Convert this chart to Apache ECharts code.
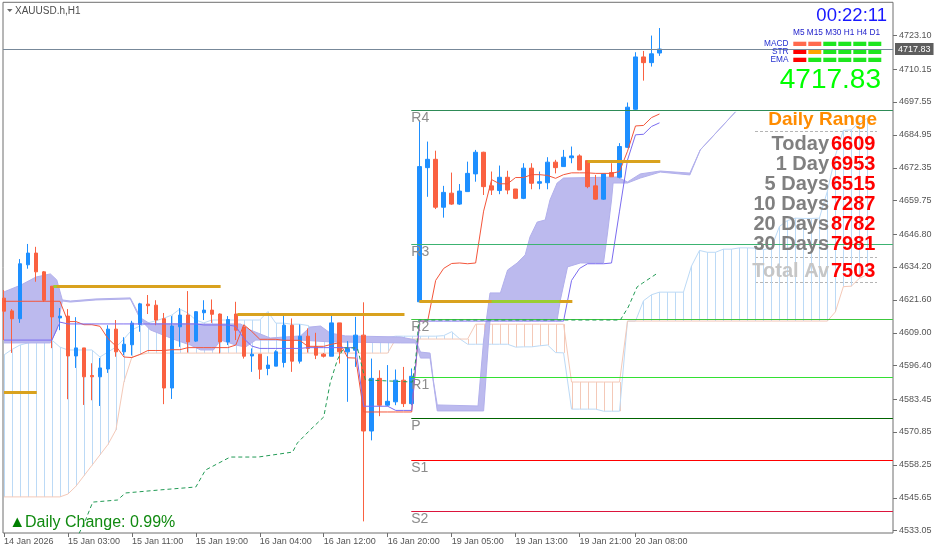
<!DOCTYPE html>
<html><head><meta charset="utf-8">
<script src="https://cdn.jsdelivr.net/npm/echarts@6/dist/echarts.min.js"></script>
<style>html,body{margin:0;padding:0;background:#fff;}#c{width:939px;height:554px;}</style>
</head><body><div id="c"></div>
<script>
// ---------------- DATA ----------------
const yTicks = [4723.10,4710.15,4697.55,4684.95,4672.35,4659.75,4646.80,4634.20,4621.60,4609.00,4596.40,4583.45,4570.85,4558.25,4545.65,4533.05];
const timeTicks = [[0,'14 Jan 2026'],[8,'15 Jan 03:00'],[16,'15 Jan 11:00'],[24,'15 Jan 19:00'],[32,'16 Jan 04:00'],[40,'16 Jan 12:00'],[48,'16 Jan 20:00'],[56,'19 Jan 05:00'],[64,'19 Jan 13:00'],[72,'19 Jan 21:00'],[79,'20 Jan 08:00']];
// [open, high, low, close]
const candles = [
[4622.2,4625.3,4606.1,4617.2],[4617.3,4618.0,4601.2,4614.3],[4614.3,4637.2,4612.7,4635.4],[4635.0,4643.0,4633.5,4639.5],
[4639.5,4641.9,4628.5,4632.3],[4632.3,4632.6,4620.8,4621.4],[4626.8,4626.8,4603.0,4615.0],[4614.6,4618.4,4609.9,4615.3],
[4615.3,4618.0,4583.4,4600.0],[4600.0,4614.9,4595.4,4603.1],[4603.1,4603.1,4581.2,4592.0],[4592.5,4597.2,4583.0,4592.0],
[4592.0,4599.2,4580.8,4595.4],[4595.0,4611.8,4593.5,4610.3],[4610.3,4613.8,4599.7,4601.6],[4601.6,4607.2,4600.3,4604.5],
[4604.3,4613.5,4600.2,4612.6],[4612.1,4620.4,4609.3,4620.0],[4619.9,4623.4,4616.1,4619.3],[4619.5,4621.4,4611.8,4613.8],
[4614.3,4616.5,4581.5,4587.7],[4587.7,4615.3,4583.5,4611.5],[4611.2,4618.4,4603.5,4615.7],[4615.7,4624.9,4601.3,4605.4],
[4605.7,4617.2,4605.4,4617.0],[4616.6,4621.4,4613.8,4617.6],[4617.6,4621.7,4612.7,4616.0],[4616.1,4616.3,4601.0,4605.4],
[4605.4,4615.3,4604.2,4614.0],[4616.1,4620.8,4606.1,4609.9],[4611.1,4611.2,4599.0,4599.9],[4600.0,4602.9,4593.9,4600.7],
[4600.7,4600.7,4591.1,4594.9],[4595.2,4599.9,4592.6,4596.5],[4596.1,4602.2,4596.1,4601.6],[4597.5,4616.3,4595.6,4611.8],
[4611.8,4614.4,4593.9,4598.0],[4598.0,4612.1,4597.1,4607.6],[4607.6,4610.6,4601.3,4602.9],[4603.5,4608.9,4598.8,4600.3],
[4600.7,4601.1,4599.4,4599.9],[4599.9,4616.0,4599.9,4612.7],[4612.7,4612.7,4597.1,4601.6],[4601.6,4605.7,4582.4,4602.9],
[4602.2,4615.0,4595.8,4608.0],[4608.0,4620.6,4536.5,4571.2],[4571.2,4599.0,4567.6,4591.4],[4591.4,4594.5,4576.9,4581.1],
[4581.1,4596.5,4580.7,4582.6],[4582.4,4594.8,4581.1,4590.7],[4590.7,4595.8,4580.4,4581.7],[4581.7,4595.2,4581.1,4592.2],
[4620.8,4690.4,4620.8,4672.7],[4672.3,4682.3,4661.1,4675.5],[4675.5,4678.8,4656.4,4657.1],[4657.1,4665.3,4653.1,4662.8],
[4662.5,4670.4,4658.0,4658.3],[4658.3,4666.0,4658.0,4663.3],[4663.1,4674.6,4663.1,4670.1],[4669.9,4679.1,4666.9,4678.2],
[4678.2,4678.4,4661.8,4665.0],[4665.3,4670.8,4661.8,4663.7],[4663.5,4673.1,4662.1,4668.6],[4668.6,4671.1,4662.1,4663.7],
[4664.1,4664.1,4660.2,4660.5],[4660.5,4674.0,4660.2,4672.1],[4672.1,4674.0,4664.0,4666.3],[4666.3,4670.8,4664.0,4666.9],
[4666.5,4676.3,4664.0,4674.4],[4674.4,4675.3,4670.1,4672.3],[4672.7,4679.1,4672.7,4676.3],[4676.1,4680.4,4674.0,4676.8],
[4676.8,4677.4,4671.4,4671.4],[4675.0,4675.0,4664.4,4665.0],[4665.3,4669.5,4659.9,4660.2],[4660.2,4670.1,4659.9,4669.9],
[4670.4,4674.0,4668.8,4668.8],[4668.6,4681.7,4668.2,4680.4],[4680.1,4697.3,4679.8,4695.5],[4694.7,4716.6,4694.5,4714.8],
[4714.8,4717.1,4705.7,4712.6],[4712.6,4723.0,4711.1,4716.0],[4716.3,4725.9,4715.2,4717.83]
];
const tenkan = [4621,4621,4621,4621,4621,4621,4621,4621,4613.2,4613.2,4612,4612,4611.4,4606.7,4603.8,4599.6,4599.4,4600.6,4602.1,4602.1,
4602.1,4602.4,4602.4,4603.2,4603.2,4603.2,4603.2,4603.2,4603.2,4604.2,4612,4609.4,4606.4,4606.4,4606.4,4606,4606,4606,4603.7,4603.7,
4603.7,4604.5,4605.1,4599.3,4599.2,4578.5,4578.5,4578.5,4578.5,4578.5,4578.5,4578.5,4613.4,4613.4,4629,4633.6,4635.5,4635.7,4635.4,4635.7,
4655.6,4667.7,4666.1,4666.1,4668.5,4668.5,4669.6,4669.6,4669.3,4668.2,4669.6,4670.3,4670.3,4670.3,4670.1,4670.1,4670.1,4670.8,4678.6,4688.3,
4688.5,4691.5,4692.9];
const kijun = [4606.1,4606.1,4606.1,4606.1,4606.1,4606.1,4606.1,4613.0,4612.3,4612.3,4612.3,4612.3,4612.3,4612.3,4612.3,4612.3,4612.3,4612.3,4612.3,4612.3,
4612.3,4612.3,4612.3,4612.3,4612.3,4611.9,4611.9,4611.9,4611.9,4611.4,4606.7,4603.8,4602.9,4602.9,4602.9,4602.9,4602.9,4602.9,4603.2,4603.2,
4603.2,4603.2,4603.2,4603.2,4603.2,4580.7,4580.7,4580.7,4580.7,4579.1,4579.1,4579.1,4613.4,4613.4,4613.4,4613.4,4613.4,4613.4,4613.4,4613.4,
4613.4,4613.4,4613.4,4613.4,4613.4,4613.4,4613.4,4613.4,4613.4,4613.4,4613.4,4629,4633.6,4635.4,4635.4,4635.4,4635.7,4655.6,4675.2,4684.9,
4685.1,4688.1,4689.5];
const spanA = [4600.4,4602.5,4604.2,4605.0,4605.5,4606.0,4606.1,4603.4,4602.3,4602.3,
4602.3,4602.3,4599.6,4601.5,4603.4,4606.5,4610.0,4611.5,4612.7,4613.5,
4614.5,4615.7,4618.0,4616.5,4613.8,4612.7,4613.8,4613.8,4613.8,4613.8,
4613.8,4613.8,4613.8,4617.0,4612.6,4612.6,4612.2,4612.2,4611.7,4609.6,
4608.1,4606.1,4606.1,4606.6,4607.1,4607.1,4607.1,4607.1,4607.1,4607.6,
4607.6,4607.6,4607.6,4607.6,4607.6,4607.8,4609.3,4606.6,4604.5,4604.5,
4604.5,4604.5,4604.5,4604.5,4603.4,4603.5,4603.5,4603.9,4604.2,4601.3,
4601.2,4579.6,4579.6,4579.6,4579.6,4578.8,4578.8,4578.8,4613.4,4613.4,
4621.2,4623.5,4624.5,4624.5,4624.5,4624.5,4634.5,4640.5,4639.8,4639.8,
4641.0,4641.0,4641.5,4641.5,4641.4,4640.8,4641.5,4649.7,4652.0,4652.9,
4652.8,4652.8,4652.9,4663.2,4676.9,4686.6,4686.8,4689.8,4691.2];
const spanB = [4545.9,4545.9,4545.9,4545.9,4545.9,4545.9,4545.9,4545.9,4547.0,4550.0,
4554.0,4558.0,4562.0,4566.0,4571.6,4590.0,4599.6,4600.5,4601.1,4601.1,
4601.1,4601.1,4601.1,4601.1,4601.1,4601.1,4601.1,4601.1,4601.1,4601.1,
4601.1,4601.1,4601.1,4601.1,4601.1,4601.1,4601.1,4601.1,4601.1,4601.1,
4601.1,4601.1,4601.1,4601.1,4601.1,4601.1,4601.1,4601.1,4601.1,4606.5,
4606.5,4606.5,4606.5,4606.5,4606.5,4606.5,4606.5,4606.5,4606.5,4612.2,
4612.2,4612.2,4612.2,4612.2,4612.2,4612.2,4612.2,4612.2,4612.2,4612.2,
4612.2,4590.0,4590.0,4590.0,4590.0,4590.0,4590.0,4590.0,4613.4,4613.4,
4613.4,4613.4,4613.4,4613.4,4613.4,4613.4,4613.4,4613.4,4613.4,4613.4,
4613.4,4613.4,4613.4,4613.4,4613.4,4613.4,4613.4,4613.4,4613.4,4613.4,
4613.4,4613.4,4613.4,4613.4,4616.9,4626.6,4626.8,4629.8,4631.2];
// lavender cloud edges [bar position, price]
const lavUpper = [[0,4624.6],[2.1,4627.2],[4,4630.3],[5.8,4631.5],[6.6,4629.2],[7.3,4621.5],[8.3,4621.1],[11.5,4621.9],[15.8,4622.3],[17.1,4614.6],
[18.3,4612.3],[29.6,4612.3],[30.8,4610.0],[33.3,4606.9],[37.1,4607.7],[38.3,4611.1],[39.6,4611.5],[40.8,4608.8],[42.7,4607.7],[49.6,4607.3],
[51.5,4606.1],[52.1,4601.5],[53.3,4601.1],[53.7,4590.8],[54.2,4581.2],[59.3,4580.8],[60,4606.1],[60.8,4624.2],[62.1,4624.2],[63,4633.0],
[64.2,4635.7],[65.2,4638.8],[65.8,4645.7],[66.7,4651.4],[67.7,4652.2],[68.3,4659.9],[69.2,4666.4],[70,4668.3],[76.7,4668.7],[78,4666.8],
[79.6,4669.9],[82.1,4671.0],[85.8,4670.2],[87.1,4679.1],[91.5,4693.7]];
const lavLower = [[0,4605.0],[5.8,4605.0],[6.6,4610.0],[7.3,4621.1],[8.3,4620.7],[11.5,4621.5],[15.8,4621.9],[17.1,4613.8],[18.3,4610.0],[21.5,4606.1],
[23.3,4604.2],[24.6,4602.3],[26.2,4602.3],[27.1,4606.1],[29,4604.2],[30.2,4603.4],[31.5,4606.1],[37.1,4606.1],[40.8,4605.4],[49.6,4605.0],
[51.5,4605.0],[52.1,4599.2],[53.3,4599.2],[54.2,4578.9],[60,4578.9],[60.8,4613.8],[69.2,4613.8],[69.6,4621.5],[70.5,4634.2],[72.1,4635.7],
[75,4635.7],[75.5,4647.2],[76,4659.9],[76.2,4666.4],[78,4666.4],[79.6,4668.3],[82.1,4670.6],[85.8,4669.5],[87.1,4679.1],[91.5,4693.7]];
const slowMA = [[9,4529.4],[10.2,4537.0],[11.1,4543.9],[14.2,4544.7],[15.2,4547.4],[19.6,4548.6],[24,4549.7],[25.2,4556.2],[28.3,4561.2],[31.8,4561.2],
[36.1,4563.1],[36.7,4566.6],[38.3,4571.6],[40,4576.6],[40.8,4589.6],[41.7,4598.5],[42.5,4603.1],[44.2,4603.1],[45.2,4590.8],[51.1,4590.0],
[51.5,4598.5],[51.9,4613.8],[77.1,4613.8],[78.1,4618.8],[79.2,4626.5],[79.9,4628.0],[81.8,4631.9]];
// session levels [from bar, to bar, price]
const goldLevels = [[0,4.1,4586.1],[6.2,27.1,4626.9],[29.2,50.1,4616.1],[51.96,71.1,4621.0],[73,82.1,4674.9]];
const limeLevels = [[61,69.5,4621.0],[6.2,6.6,4626.9]];
const pivots = [['R4',4694.31],['R3',4642.87],['R2',4614.08],['R1',4591.81],['P',4576.07],['S1',4559.95],['S2',4540.37]];
const pivotFrom = 50.95, pivotTo = 111.2;
const lastPrice = 4717.83;
const symbolName = 'XAUUSD.h,H1';
const clockText = '00:22:11';
const timeframes = ['M5','M15','M30','H1','H4','D1'];
const signalRows = [['MACD',['dn','dn','up','up','up','up']],['STR',['sell','weak','up','up','up','up']],['EMA',['sell','up','up','up','up','up']]];
const rangeRows = [['Today',6609],['1 Day',6953],['5 Days',6515],['10 Days',7287],['20 Days',8782],['30 Days',7981]];
const rangeAvg = ['Total Av',7503];
const dailyChange = 'Daily Change: 0.99%';

// ---------------- CHART ----------------
const Y_MIN = 4532.04, Y_MAX = 4735.77, N_SLOTS = 112;
const BLUE='#1E8FFF', RED='#FA6141', LB='#BCDAF6', PEACH='#F4C9B8', LAV='#BCBAEE';
const FONT='"Liberation Sans", Arial, sans-serif';
const tickMap = new Map(timeTicks);
const cats = Array.from({length:N_SLOTS},(_,i)=>String(i));
const HIDDEN = {show:false,axisLine:{show:false,onZero:false},axisTick:{show:false},axisLabel:{show:false},splitLine:{show:false},splitArea:{show:false},minorTick:{show:false},minorSplitLine:{show:false}};

const markLines = [];
goldLevels.forEach(g=>markLines.push([{coord:[g[0],g[2]],lineStyle:{color:'#D9A21E',width:3,type:'solid'}},{coord:[g[1],g[2]]}]));
limeLevels.forEach(g=>markLines.push([{coord:[g[0],g[2]],lineStyle:{color:'#9ACD32',width:3,type:'solid'}},{coord:[g[1],g[2]]}]));
const pivColors = {R4:'#2E8B57',R3:'#3CB371',R2:'#3CC83C',R1:'#33E033',P:'#006400',S1:'#FF0000',S2:'#DC143C'};
pivots.forEach(p=>markLines.push([{coord:[pivotFrom,p[1]],lineStyle:{color:pivColors[p[0]],width:1,type:'solid'},
  label:{show:true,formatter:p[0],position:'insideStartBottom',distance:[0,1],color:'#8c8c8c',fontSize:14,fontFamily:FONT}},{coord:[pivotTo,p[1]]}]));

const graphics = [];
function txt(x,y,text,size,color,align,weight,vAlign){graphics.push({type:'text',x:x,y:y,silent:true,z:100,style:{text:text,fill:color,font:(weight||'normal')+' '+size+'px '+FONT,align:align||'left',verticalAlign:vAlign||'middle'}});}
graphics.push({type:'polygon',silent:true,shape:{points:[[7,9],[12.5,9],[9.75,12]]},style:{fill:'#6a6a6a'}});
txt(15,11.5,symbolName,10,'#4d4d4d');
txt(887,15.5,clockText,18.5,'#1818FF','right');
txt(793,33,timeframes.join(' '),8.3,'#2424CC');
const sigColor = {dn:'#FF6A4D',sell:'#FF0000',weak:'#FFA500',up:'#1EE61E'};
signalRows.forEach((r,ri)=>{
  txt(788.5,43.5+ri*8,r[0],8.3,'#2430D0','right');
  r[1].forEach((s,ci)=>graphics.push({type:'rect',silent:true,shape:{x:793.3+ci*15,y:41.7+ri*8,width:13,height:4.3},style:{fill:sigColor[s]}}));
});
txt(881,80.5,lastPrice.toFixed(2),28,'#00FF00','right');
txt(877,119.5,'Daily Range',19,'#FF8C00','right','bold');
function dash(y){graphics.push({type:'line',silent:true,shape:{x1:755,y1:y,x2:877,y2:y},style:{stroke:'#b4b4b4',lineWidth:1,lineDash:[3,2]}});}
dash(131.5);
rangeRows.forEach((r,i)=>{txt(829,144.5+i*20,r[0],20,'#808080','right','bold');txt(831,144.5+i*20,String(r[1]),20,'#FF0000','left','bold');});
dash(257.5);
txt(829,271,rangeAvg[0],20,'#C6C6C6','right','bold');txt(831,271,String(rangeAvg[1]),20,'#FF0000','left','bold');
dash(282.5);
graphics.push({type:'polygon',silent:true,shape:{points:[[12.5,527],[22,527],[17.25,517.5]]},style:{fill:'#008000'}});
txt(25,522.5,dailyChange,16,'#108A10');

const option = {
  animation:false,
  backgroundColor:'#ffffff',
  grid:[
    {left:3,right:46,top:2.3,bottom:21,show:true,borderColor:'#6f6f6f',borderWidth:1,backgroundColor:'transparent'},
    {left:-0.7,right:43.7,top:2.3,bottom:21}
  ],
  xAxis:[
    Object.assign({type:'value',gridIndex:0,min:0,max:1},HIDDEN),
    {type:'category',gridIndex:1,data:cats,boundaryGap:true,axisLine:{show:false,onZero:false},splitLine:{show:false},
     axisTick:{show:true,interval:(i)=>tickMap.has(i),alignWithLabel:true,length:4,lineStyle:{color:'#6f6f6f'}},
     axisLabel:{interval:(i)=>tickMap.has(i),formatter:(v,i)=>tickMap.get(i)||'',align:'left',margin:4,fontSize:9,color:'#555555',fontFamily:FONT}},
    Object.assign({type:'value',gridIndex:1,min:-0.5,max:N_SLOTS-0.5},HIDDEN)
  ],
  yAxis:[
    {type:'value',gridIndex:0,position:'right',alignTicks:false,min:Y_MIN,max:Y_MAX,splitLine:{show:false},splitArea:{show:false},minorTick:{show:false},
     axisLine:{show:false,onZero:false},axisTick:{show:false},
     axisLabel:{customValues:yTicks,formatter:(v)=>v.toFixed(2),margin:6,fontSize:9,color:'#555555',fontFamily:FONT}},
    Object.assign({type:'value',gridIndex:1,alignTicks:false,min:Y_MIN,max:Y_MAX},HIDDEN)
  ],
  graphic:graphics,
  series:[
    {type:'custom',name:'yTickMarks',xAxisIndex:0,yAxisIndex:0,z:6,silent:true,clip:false,
     data:yTicks.map(v=>[1,v]),
     renderItem:(params,api)=>{const p=api.coord([1,api.value(1)]);const cs=params.coordSys;const x0=cs.x+cs.width;const y=Math.round(p[1])+0.5;
       return {type:'line',shape:{x1:x0,y1:y,x2:x0+4,y2:y},style:{stroke:'#6f6f6f',lineWidth:1}};}},
    {type:'custom',name:'kumoHatch',xAxisIndex:2,yAxisIndex:1,z:1,silent:true,clip:true,
     data:spanA.map((a,j)=>[j,a,spanB[j]]),
     renderItem:(params,api)=>{const j=api.value(0),a=api.value(1),b=api.value(2);const p1=api.coord([j,a]),p2=api.coord([j,b]);const x=Math.round(p1[0])+0.5;
       return {type:'line',shape:{x1:x,y1:p1[1],x2:x,y2:p2[1]},style:{stroke:a>=b?LB:PEACH,lineWidth:1}};}},
    {type:'line',name:'spanA',xAxisIndex:2,yAxisIndex:1,z:1,silent:true,symbol:'none',data:spanA.map((v,j)=>[j,v]),lineStyle:{color:LB,width:1}},
    {type:'line',name:'spanB',xAxisIndex:2,yAxisIndex:1,z:1,silent:true,symbol:'none',data:spanB.map((v,j)=>[j,v]),lineStyle:{color:PEACH,width:1}},
    {type:'custom',name:'lavCloud',xAxisIndex:2,yAxisIndex:1,z:2,silent:true,clip:true,data:[[0,lavUpper[0][1]]],
     renderItem:(params,api)=>{const pts=lavUpper.map(p=>api.coord(p)).concat(lavLower.slice().reverse().map(p=>api.coord(p)));
       return {type:'polygon',shape:{points:pts},style:{fill:LAV}};}},
    {type:'line',name:'lavU',xAxisIndex:2,yAxisIndex:1,z:2,silent:true,symbol:'none',data:lavUpper,lineStyle:{color:'#B2B0EC',width:1}},
    {type:'line',name:'lavL',xAxisIndex:2,yAxisIndex:1,z:2,silent:true,symbol:'none',data:lavLower,lineStyle:{color:'#B2B0EC',width:1}},
    {type:'candlestick',name:'XAUUSD',xAxisIndex:1,yAxisIndex:1,z:3,barWidth:4,
     data:candles.map(c=>[c[0],c[3],c[2],c[1]]),
     itemStyle:{color:BLUE,color0:RED,borderColor:BLUE,borderColor0:RED,borderWidth:1}},
    {type:'line',name:'tenkan',xAxisIndex:1,yAxisIndex:1,z:4,silent:true,symbol:'none',data:tenkan,lineStyle:{color:'#F4553A',width:1}},
    {type:'line',name:'kijun',xAxisIndex:1,yAxisIndex:1,z:4,silent:true,symbol:'none',data:kijun,lineStyle:{color:'#7B6CF0',width:1}},
    {type:'line',name:'slowMA',xAxisIndex:2,yAxisIndex:1,z:5,silent:true,symbol:'none',data:slowMA,lineStyle:{color:'#239B56',width:1,type:[4,3]},
     markLine:{silent:true,symbol:'none',animation:false,data:markLines}},
    {type:'line',name:'price',xAxisIndex:0,yAxisIndex:0,z:6,silent:true,symbol:'none',data:[],
     markLine:{silent:true,symbol:'none',animation:false,data:[{yAxis:lastPrice,lineStyle:{color:'#778899',width:1,type:'solid'},
       label:{show:true,position:'end',distance:2,formatter:lastPrice.toFixed(2),color:'#ffffff',backgroundColor:'#5e5e5e',padding:[2,3,1,3],fontSize:9,fontFamily:FONT}}]}}
  ]
};
const chart = echarts.init(document.getElementById('c'));
chart.setOption(option);
</script></body></html>
